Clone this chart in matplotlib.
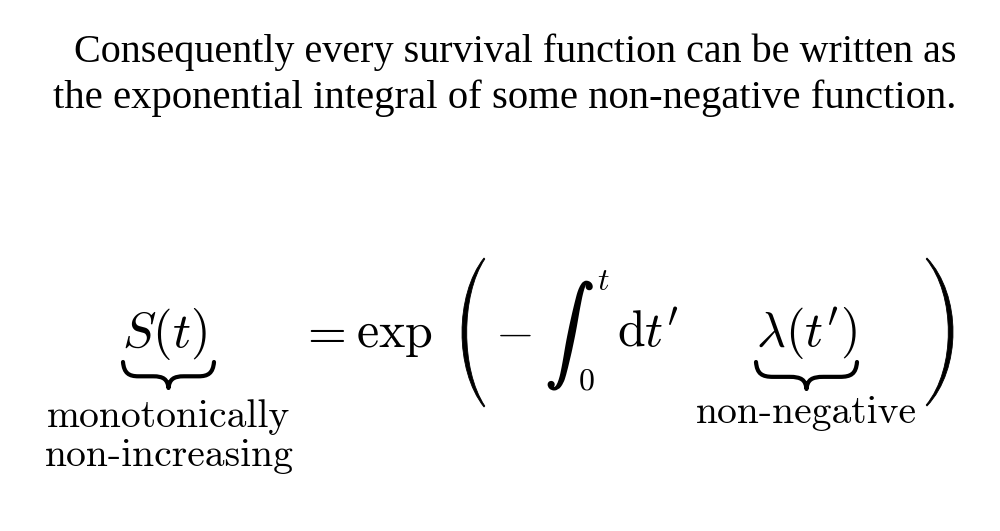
import matplotlib
matplotlib.use("Agg")
import matplotlib.pyplot as plt
import matplotlib.patheffects as pe
from matplotlib.path import Path
from matplotlib.patches import PathPatch

# ---- content ----
title_lines = ["Consequently every survival function can be written as",
               "the exponential integral of some non-negative function."]
lhs = r"$S(t)$"
eq_parts = [r"$=$", r"$\exp$", r"$-$"]
integral = r"$\int$"
upper_limit = r"$t$"
lower_limit = r"$0$"
measure = r"$\mathrm{d}t^{\prime}$"
integrand = r"$\lambda(t^{\prime})$"
lhs_note = ["monotonically", "non-increasing"]
integrand_note = ["non-negative"]

W, H = 1000, 531
fig = plt.figure(figsize=(W / 100, H / 100), dpi=100)
fig.patch.set_facecolor("white")
ax = fig.add_axes([0, 0, 1, 1])
ax.set_xlim(0, W)
ax.set_ylim(H, 0)
ax.axis("off")
renderer = fig.canvas.get_renderer()


def put(s, x, y, size, ha="left", fit_w=None, fit_h=None, **kw):
    t = ax.text(x, y, s, fontsize=size, ha=ha, va="baseline", **kw)
    if fit_w is not None or fit_h is not None:
        bb = t.get_window_extent(renderer)
        sc = fit_w / bb.width if fit_w is not None else fit_h / bb.height
        t.set_fontsize(size * sc)
    return t


MATH = dict(math_fontfamily="cm", color="black")
TXT = dict(family="cmr10", color="black")

# title
put(title_lines[0], 956, 62, 27, ha="right", fit_w=883, family="Liberation Serif")
put(title_lines[1], 956, 108, 27, ha="right", fit_w=903, family="Liberation Serif")

FS = 36
BASE = 347
put(lhs, 122, BASE, FS, **MATH)
put(eq_parts[0], 299, BASE, FS, **MATH)
put(eq_parts[1], 356, BASE, FS, **MATH)
put(eq_parts[2], 495, BASE, FS, **MATH)

# integral sign, height fitted
ti = put(integral, 546, 352, 60, fit_h=110, **MATH)
ti.set_path_effects([pe.withStroke(linewidth=1.6, foreground="black")])
put(upper_limit, 597, 290, 23, **MATH)
put(lower_limit, 578, 390, 23, **MATH)
put(measure, 617, BASE, FS, **MATH)
put(integrand, 756, BASE, FS, **MATH)

# notes
put(lhs_note[0], 168, 427, 28.5, ha="center", **TXT)
put(lhs_note[1], 169, 466, 28.5, ha="center", **TXT)
put(integrand_note[0], 806, 423, 28.5, ha="center", **TXT)


# big parentheses drawn as crescents
def paren(x_end, x_bulge, y0, y1, thick=4.5, left=True):
    s = 1 if left else -1
    span = y1 - y0
    c_out = (x_bulge - 0.25 * x_end) / 0.75
    c_in = (x_bulge + s * thick - 0.25 * x_end) / 0.75
    verts = [(x_end, y0), (c_out, y0 + 0.25 * span), (c_out, y1 - 0.25 * span), (x_end, y1),
             (x_end + s * 0.8, y1 - 1), (c_in, y1 - 0.25 * span), (c_in, y0 + 0.25 * span),
             (x_end + s * 0.8, y0 + 1), (x_end, y0)]
    codes = [Path.MOVETO, Path.CURVE4, Path.CURVE4, Path.CURVE4, Path.LINETO,
             Path.CURVE4, Path.CURVE4, Path.CURVE4, Path.CLOSEPOLY]
    ax.add_patch(PathPatch(Path(verts, codes), fc="black", ec="black", lw=0.6))


paren(484, 462, 258, 407, left=True)
paren(927, 953, 258, 406, left=False)


def underbrace(x0, x1, ytop, ybot):
    xc = (x0 + x1) / 2
    ym = ytop + 0.55 * (ybot - ytop)
    w = x1 - x0
    verts = [(x0, ytop), (x0 + 1, ym - 3), (x0 + 6, ym), (x0 + 0.17 * w, ym),
             (xc - 0.17 * w, ym), (xc - 5, ym), (xc - 1, ym + 3), (xc, ybot),
             (xc + 1, ym + 3), (xc + 5, ym), (xc + 0.17 * w, ym),
             (x1 - 0.17 * w, ym), (x1 - 6, ym), (x1 - 1, ym - 3), (x1, ytop)]
    codes = [Path.MOVETO, Path.CURVE4, Path.CURVE4, Path.CURVE4,
             Path.LINETO, Path.CURVE4, Path.CURVE4, Path.CURVE4,
             Path.CURVE4, Path.CURVE4, Path.CURVE4,
             Path.LINETO, Path.CURVE4, Path.CURVE4, Path.CURVE4]
    ax.add_patch(PathPatch(Path(verts, codes), fc="none", ec="black", lw=3.0,
                           capstyle="round", joinstyle="round"))


underbrace(123, 214, 362, 388)
underbrace(756, 857, 362, 389)

fig.savefig("out.png", dpi=100, facecolor="white")
